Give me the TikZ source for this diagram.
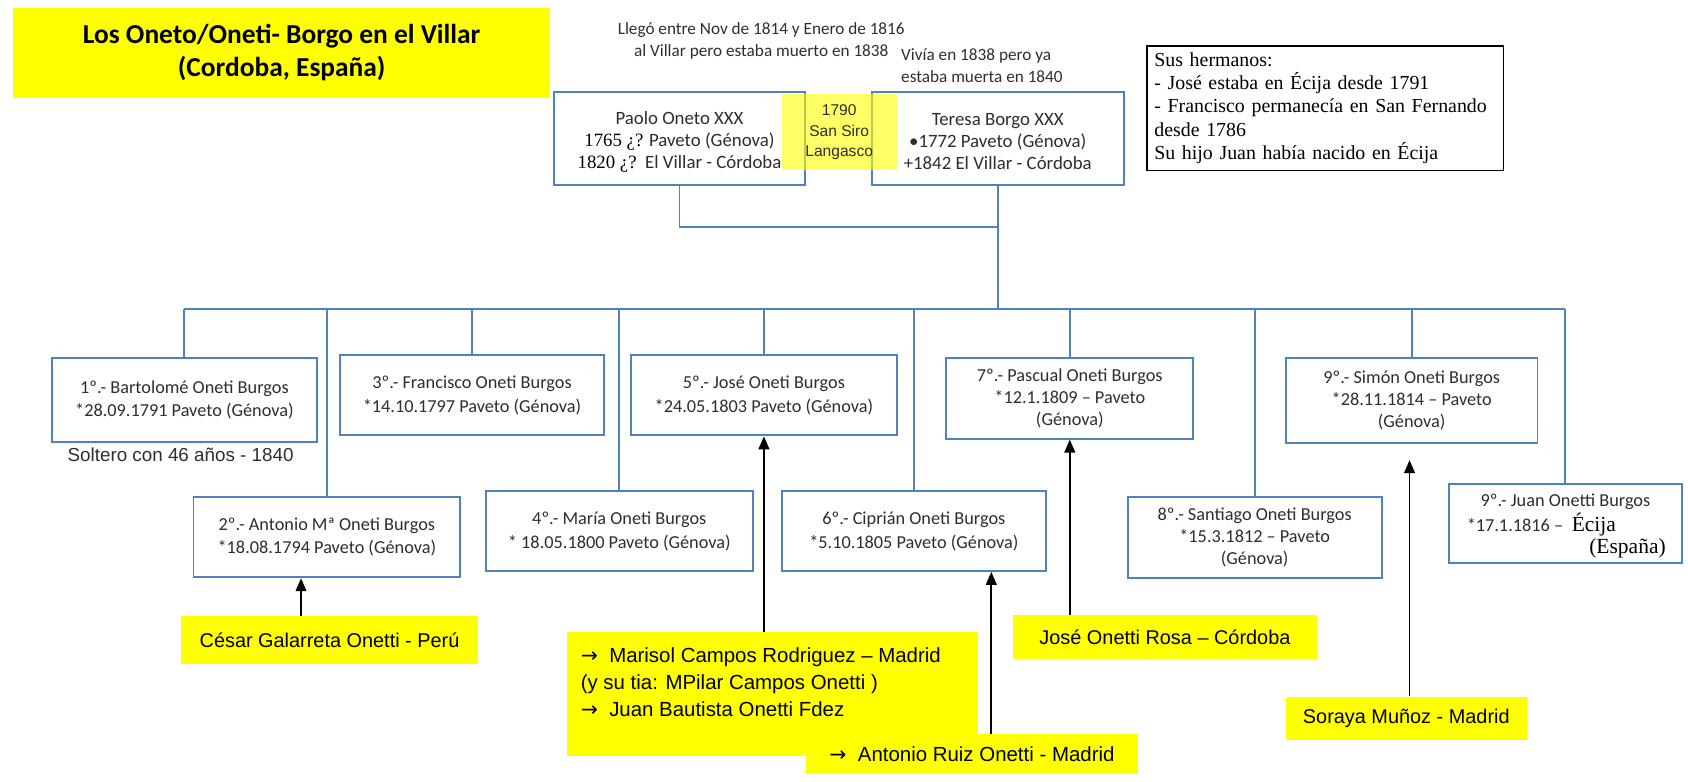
\documentclass[tikz,border=0pt]{standalone}
\usepackage{fontspec}
\setmainfont{Carlito}
\newfontfamily\ari{Liberation Sans}
\newfontfamily\tms{Liberation Serif}
\newfontfamily\djv{DejaVu Sans}
\usetikzlibrary{arrows.meta}
\definecolor{bl}{HTML}{4F81BD}
\definecolor{txt}{HTML}{2E2E2E}
\definecolor{yel}{HTML}{FFFF00}
\hyphenpenalty=10000
\exhyphenpenalty=10000
\begin{document}
\begin{tikzpicture}[x=1pt,y=-1pt,
  pbox/.style={draw=bl, line width=1.8pt, fill=white, align=center, inner sep=0pt, text=txt,
    font=\fontsize{17}{22}\selectfont},
  tbox/.style={inner sep=0pt, align=center, text=txt, font=\fontsize{17.5}{20.5}\selectfont},
  link/.style={draw=bl, line width=1.8pt},
  arr/.style={draw=black, line width=1.6pt, -{Triangle[width=10pt,length=12pt]}},
  ylab/.style={fill=yel, inner sep=0pt, text=black, font=\ari\fontsize{18.5}{24}\selectfont},
  anno/.style={inner sep=0pt, text=txt, font=\fontsize{16}{21}\selectfont},
]
\useasboundingbox (0,0) rectangle (1570,727);

% title
\node[fill=yel, minimum width=500pt, minimum height=84pt, inner sep=0pt, align=center,
  font=\bfseries\fontsize{25.5}{31}\selectfont] (title) at (262,49)
  {Los Oneto/Oneti- Borgo en el Villar\\(Cordoba, España)};

% annotations
\node[anno, align=center] (ann1) at (708,38)
  {Llegó entre Nov de 1814 y Enero de 1816\\al Villar pero estaba muerto en 1838};
\node[anno, align=left, anchor=west] (ann2) at (838,61)
  {Vivía en 1838 pero ya\\estaba muerta en 1840};

% note box
\node[draw=black, line width=1.3pt, anchor=north west, minimum width=332pt, minimum height=116pt,
  inner xsep=7pt, inner ysep=4pt, text width=318pt, align=left,
  font=\tms\fontsize{18.5}{21.5}\selectfont] (note) at (1066,42)
  {Sus hermanos:\\- José estaba en Écija desde 1791\\- Francisco permanecía en San Fernando\\desde 1786\\Su hijo Juan había nacido en Écija};

% parents
\node[pbox, minimum width=234pt, minimum height=86pt] (pa) at (632,129) {};
\node[tbox] (pat) at (632,132)
  {Paolo Oneto XXX\\{\tms\color{black}1765 ¿?} Paveto (Génova)\\{\tms\color{black}1820 ¿?}\ \ El Villar - Córdoba};
\node[pbox, minimum width=234pt, minimum height=86pt] (te) at (928,129) {};
\node[tbox] (tet) at (928,132)
  {Teresa Borgo XXX\\•1772 Paveto (Génova)\\+1842 El Villar - Córdoba};

% children
\node[pbox, minimum width=247pt, minimum height=78pt] (b1) at (171.5,372)
  {1º.- Bartolomé Oneti Burgos\\*28.09.1791 Paveto (Génova)};
\node[pbox, minimum width=246pt, minimum height=75pt] (b3) at (439,367.5)
  {3º.- Francisco Oneti Burgos\\*14.10.1797 Paveto (Génova)};
\node[pbox, minimum width=247pt, minimum height=75pt] (b5) at (710.5,367.5)
  {5º.- José Oneti Burgos\\*24.05.1803 Paveto (Génova)};
\node[pbox, minimum width=230pt, minimum height=75pt, font=\fontsize{17}{20.5}\selectfont] (b7) at (995,370.5)
  {7º.- Pascual Oneti Burgos\\*12.1.1809 – Paveto\\(Génova)};
\node[pbox, minimum width=234pt, minimum height=79pt, font=\fontsize{17}{20.5}\selectfont] (b9) at (1313,372.5)
  {9º.- Simón Oneti Burgos\\*28.11.1814 – Paveto\\(Génova)};
\node[pbox, minimum width=248pt, minimum height=75pt] (b2) at (304,499.5)
  {2º.- Antonio Mª Oneti Burgos\\*18.08.1794 Paveto (Génova)};
\node[pbox, minimum width=248pt, minimum height=74pt] (b4) at (576,494)
  {4º.- María Oneti Burgos\\* 18.05.1800 Paveto (Génova)};
\node[pbox, minimum width=246pt, minimum height=74pt] (b6) at (850,494)
  {6º.- Ciprián Oneti Burgos\\*5.10.1805 Paveto (Génova)};
\node[pbox, minimum width=236pt, minimum height=76pt, font=\fontsize{17}{20.5}\selectfont] (b8) at (1167,500)
  {8º.- Santiago Oneti Burgos\\*15.3.1812 – Paveto\\(Génova)};
\node[pbox, minimum width=216pt, minimum height=74pt] (b10) at (1456,487) {};
\node[anno, text=txt, font=\fontsize{17}{20}\selectfont] (j1) at (1456,467) {9º.- Juan Onetti Burgos};
\node[anno, text=txt, anchor=west, font=\fontsize{17}{20}\selectfont] (j2) at (1364,488)
  {*17.1.1816 –\hspace{8pt}{\tms\color{black}\fontsize{20}{20}\selectfont Écija}};
\node[anno, text=black, anchor=west, font=\tms\fontsize{20}{20}\selectfont] (j3) at (1478,510) {(España)};

% connectors
\coordinate (mj) at (928,211);
\coordinate (bus) at (928,287);
\draw[link] (pa.south) |- (mj) -- (te.south);
\draw[link] (mj) -- (bus);
\draw[link] (b1.north |- bus) -- (b10.north |- bus);
\foreach \b in {b1,b2,b3,b4,b5,b6,b7,b8,b9,b10}{
  \draw[link] (\b.north) -- (\b.north |- bus);
}

% marriage label
\node[fill=yel, fill opacity=0.6, text opacity=1, minimum width=107pt, minimum height=71pt,
  inner sep=0pt, align=center, text=txt, font=\ari\fontsize{14.5}{19}\selectfont] (m1790) at (780.5,123)
  {1790\\San Siro\\Langasco};

\node[anno, text=txt, font=\ari\fontsize{17.5}{20}\selectfont] (solt) at (168,423) {Soltero con 46 años - 1840};

% yellow labels
\node[ylab, minimum width=277pt, minimum height=45pt] (ces) at (306.5,595.5) {César Galarreta Onetti - Perú};
\node[fill=yel, minimum width=383pt, minimum height=115pt, inner sep=0pt] (mar) at (718.5,645.5) {};
\node[inner sep=0pt, anchor=north west, align=left, text=black,
  font=\ari\fontsize{19}{25}\selectfont] (mart) at (540,602)
  {{\djv →}\ \ Marisol Campos Rodriguez – Madrid\\(y su tia: MPilar Campos Onetti )\\{\djv →}\ \ Juan Bautista Onetti Fdez};
\node[ylab, minimum width=308pt, minimum height=37pt, font=\ari\fontsize{19}{24}\selectfont] (ant) at (904,701.5) {{\djv →}\ \ Antonio Ruiz Onetti - Madrid};
\node[ylab, minimum width=283pt, minimum height=41pt] (jor) at (1083.5,592.5) {José Onetti Rosa – Córdoba};
\node[ylab, minimum width=224pt, minimum height=40pt] (sor) at (1308,668) {Soraya Muñoz - Madrid};

% arrows
\coordinate (a1) at (280,573);
\draw[arr] (a1) -- (a1 |- b2.south);
\draw[arr] (b5.south |- mar.north) -- (b5.south);
\coordinate (a3) at (922,683);
\draw[arr] (a3) -- (a3 |- b6.south);
\draw[arr] (b7.south |- jor.north) -- (b7.south);
\coordinate (a5) at (1311,428);
\draw[arr] (a5 |- sor.north) -- (a5);
\end{tikzpicture}
\end{document}
